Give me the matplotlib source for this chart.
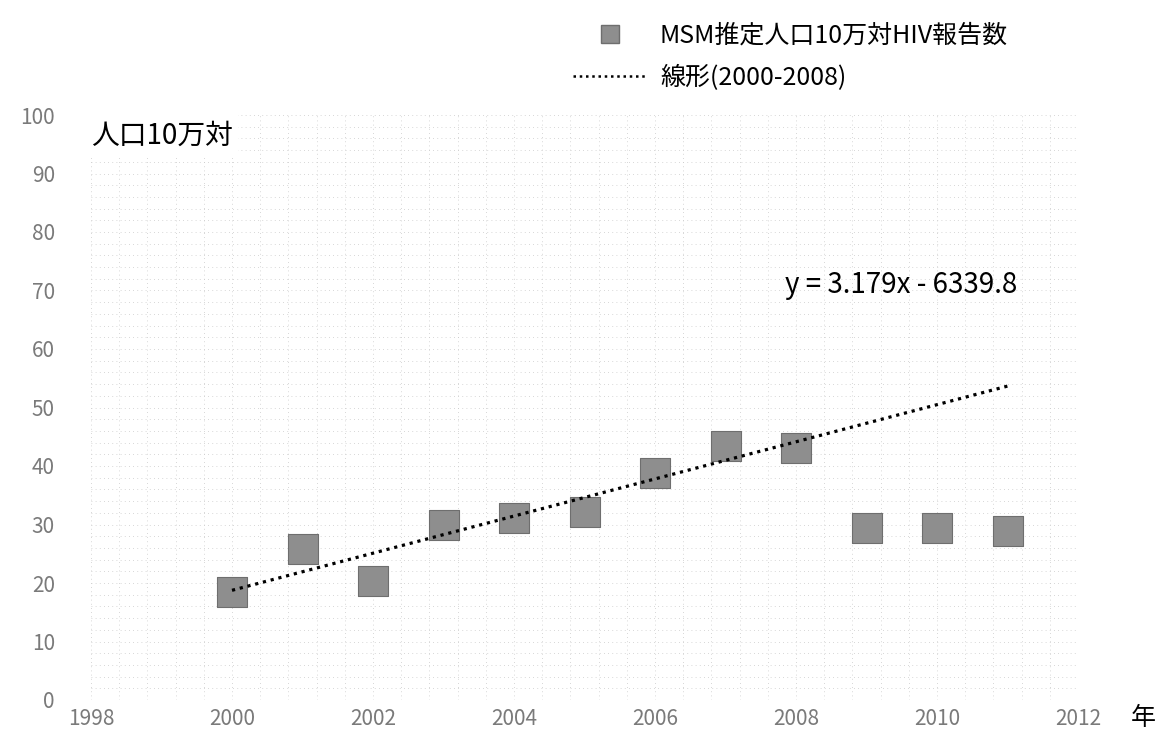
import numpy as np
import matplotlib
matplotlib.use('Agg')
import matplotlib.pyplot as plt
from matplotlib.ticker import MultipleLocator
from matplotlib.lines import Line2D

plt.rcParams['font.family'] = ['Noto Sans CJK JP', 'DejaVu Sans']

# データ
years = [2000, 2001, 2002, 2003, 2004, 2005, 2006, 2007, 2008, 2009, 2010, 2011]
rates = [18.5, 25.8, 20.3, 29.9, 31.1, 32.1, 38.8, 43.4, 43.1, 29.4, 29.4, 28.9]
fit_start, fit_end = 2000, 2008
eq_label = 'y = 3.179x - 6339.8'
series_label = 'MSM推定人口10万対HIV報告数'
trend_label = '線形(2000-2008)'
x_ticks = [1998, 2000, 2002, 2004, 2006, 2008, 2010, 2012]
y_ticks = [0, 10, 20, 30, 40, 50, 60, 70, 80, 90, 100]

x = np.array(years)
y = np.array(rates)
mask = (x >= fit_start) & (x <= fit_end)
coef = np.polyfit(x[mask], y[mask], 1)
xl = np.array([years[0], years[-1]])

fig = plt.figure(figsize=(11.6, 7.55), dpi=100)
ax = fig.add_axes([91 / 1160, 55 / 755, 987 / 1160, 585 / 755])

ax.scatter(x, y, marker='s', s=21.5 ** 2, color='#8e8e8e', edgecolors='#6e6e6e',
           linewidths=0.8, zorder=3)
ax.plot(xl, np.polyval(coef, xl), color='black', lw=2.3,
        linestyle=(0, (1, 1.5)), zorder=4)

ax.set_xlim(1998, 2012)
ax.set_ylim(0, 100)
ax.set_xticks(x_ticks)
ax.set_yticks(y_ticks)
ax.xaxis.set_minor_locator(MultipleLocator(0.4))
ax.yaxis.set_minor_locator(MultipleLocator(2))
ax.grid(True, which='both', color='#cacaca', linestyle=(0, (1, 4)), lw=0.6)
ax.set_axisbelow(True)
for s in ax.spines.values():
    s.set_visible(False)
ax.tick_params(axis='both', which='both', length=0, colors='#7a7a7a', labelsize=15)
ax.tick_params(axis='y', pad=26)
ax.tick_params(axis='x', pad=6)

ax.text(0.0, 0.965, '人口10万対', transform=ax.transAxes, fontsize=20,
        ha='left', va='center', bbox=dict(facecolor='white', edgecolor='none', pad=4))
fig.text(785 / 1160, 1 - 285 / 755, eq_label, fontsize=20, ha='left', va='center')
fig.text(1143 / 1160, 1 - 718 / 755, '年', fontsize=18, ha='center', va='center')

handles = [Line2D([], [], marker='s', color='#8e8e8e', markeredgecolor='#6e6e6e',
                  linestyle='none', markersize=13),
           Line2D([], [], color='black', lw=1.8, linestyle=(0, (1, 1.5)))]
fig.legend(handles, [series_label, trend_label], loc='upper left',
           bbox_to_anchor=(550 / 1160, 1.0), frameon=False, fontsize=18,
           handlelength=3.0, handletextpad=0.5, labelspacing=0.65)

fig.savefig('out.png', dpi=100)
